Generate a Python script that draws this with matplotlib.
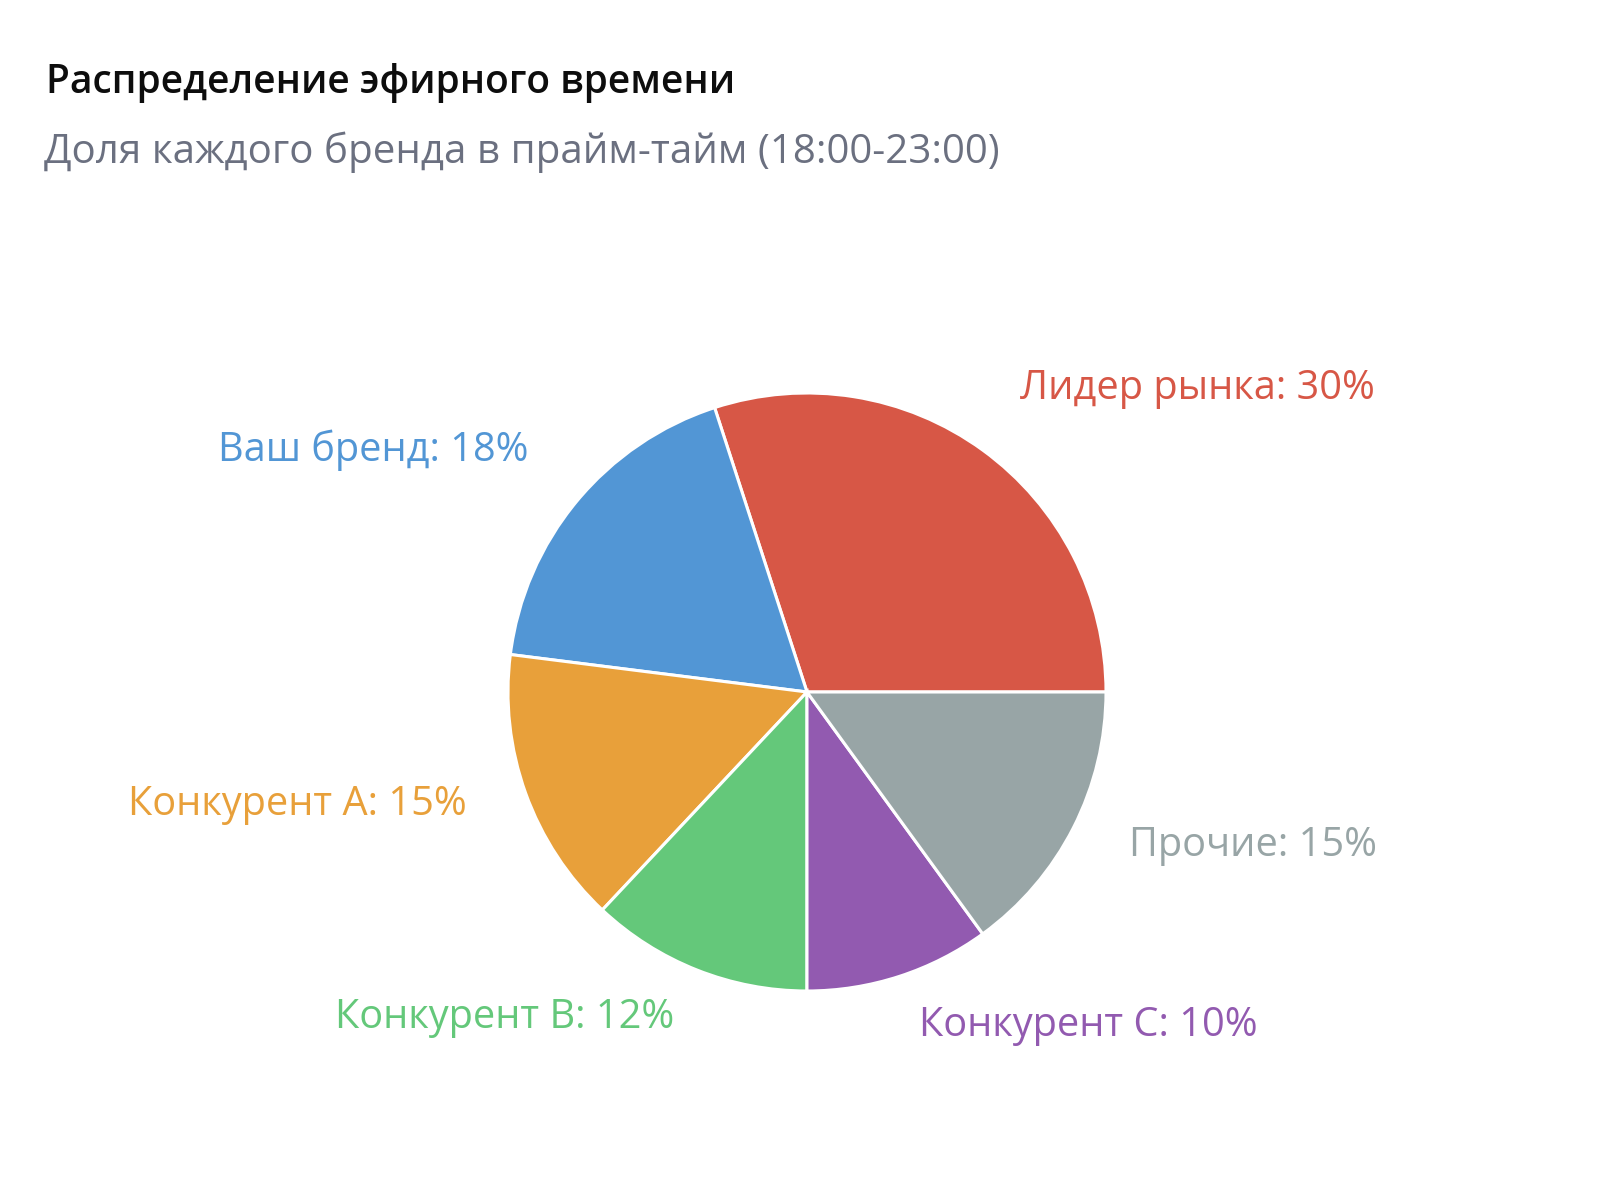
import numpy as np
import matplotlib
matplotlib.use("Agg")
import matplotlib.pyplot as plt

# ---- data ----
categories = ["Лидер рынка", "Ваш бренд", "Конкурент A", "Конкурент B", "Конкурент C", "Прочие"]
shares = [30, 18, 15, 12, 10, 15]
colors = ["#d75746", "#5296d5", "#e8a03a", "#64c87a", "#925ab0", "#98a5a6"]
title = "Распределение эфирного времени"
subtitle = "Доля каждого бренда в прайм-тайм (18:00-23:00)"

plt.rcParams['font.family'] = ['Open Sans', 'DejaVu Sans']

W, H = 1600, 1180
fig = plt.figure(figsize=(W / 100, H / 100), dpi=100)
fig.patch.set_facecolor("white")
ax = fig.add_axes([0, 0, 1, 1])
ax.set_xlim(0, W)
ax.set_ylim(0, H)
ax.set_aspect("equal")
ax.axis("off")

cx, cy, r = 807, H - 692, 299
wedges, _ = ax.pie(shares, colors=colors, startangle=0, counterclock=True,
                   center=(cx, cy), radius=r,
                   wedgeprops=dict(edgecolor="white", linewidth=2.2))
ax.set_xlim(0, W)
ax.set_ylim(0, H)

label_r = 1.21 * r
for w, name, val, col in zip(wedges, categories, shares, colors):
    mid = np.deg2rad((w.theta1 + w.theta2) / 2)
    x = cx + label_r * np.cos(mid)
    y = cy + label_r * np.sin(mid)
    ha = "left" if np.cos(mid) > 0 else "right"
    ax.text(x, y, f"{name}: {val}%", color=col, fontsize=28.6, ha=ha, va="baseline")

fig.text(46 / W, 1 - 93 / H, title, fontsize=28, fontweight="semibold", color="#0d0d0d",
         ha="left", va="baseline")
fig.text(44 / W, 1 - 163 / H, subtitle, fontsize=29, color="#6b7080",
         ha="left", va="baseline")

fig.savefig("out.png", dpi=100, facecolor="white")
